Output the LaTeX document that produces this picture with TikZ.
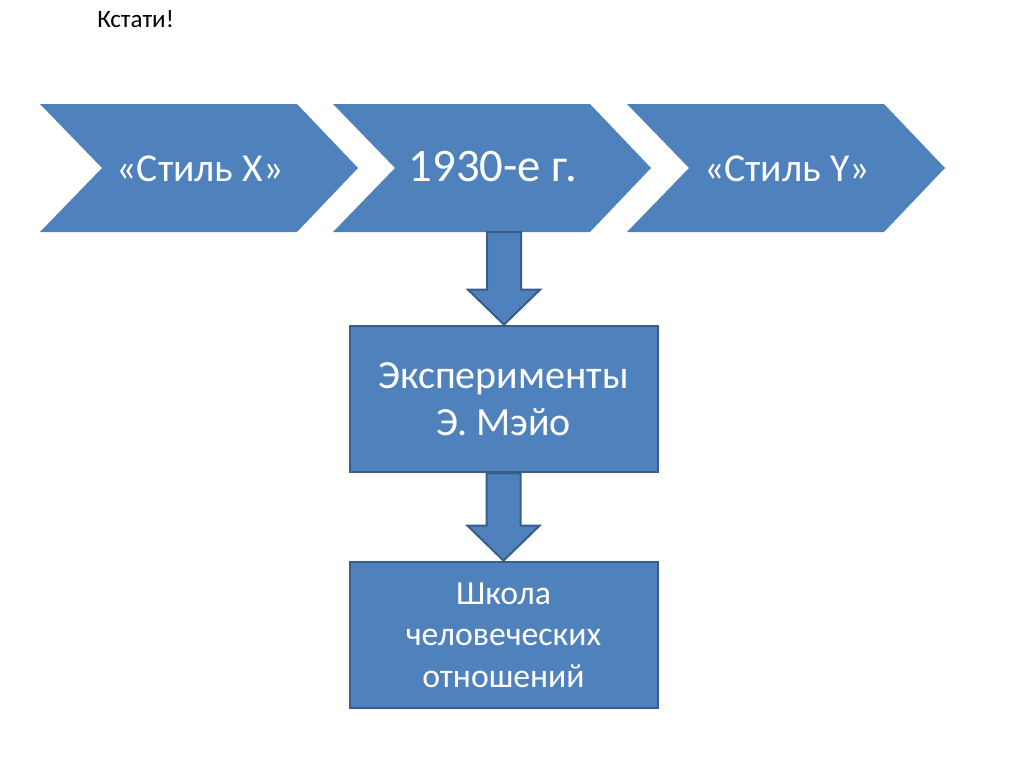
\documentclass[tikz,border=0pt]{standalone}
\usepackage{fontspec}
\setmainfont{Carlito}
\usetikzlibrary{calc}
\definecolor{officeblue}{HTML}{4F81BD}
\definecolor{officeedge}{HTML}{385D8A}
\tikzset{
  chevron/.style={fill=officeblue},
  label text/.style={text=white, inner sep=0pt},
  stagebox/.style={draw=officeedge, line width=1.5pt, fill=officeblue, text=white,
    minimum width=231pt, minimum height=110pt, align=center, inner sep=0pt},
  blockarrow/.style={draw=officeedge, line width=1.5pt, fill=officeblue, line join=miter}
}
% block arrow pointing down from #1 to #2
\newcommand{\blockdown}[2]{
  \draw[blockarrow] let \p1=(#1), \p2=(#2) in
    (\x1-12.75pt,\y1) -- (\x1-12.75pt,\y2+26.25pt) -- (\x1-27pt,\y2+26.25pt) -- (\x1,\y2)
    -- (\x1+27pt,\y2+26.25pt) -- (\x1+12.75pt,\y2+26.25pt) -- (\x1+12.75pt,\y1) -- cycle;
}
\begin{document}
\begin{tikzpicture}[x=0.75pt, y=-0.75pt]
  \useasboundingbox (0,0) rectangle (1024,767);
  \node[anchor=base west, inner sep=0pt, font=\fontsize{18.8}{22}\selectfont] (note) at (97,28) {Кстати!};

  % chevrons
  \foreach \L/\name/\txt/\size in {40/stylex/«Стиль X»/29.7, 333/years/1930-е г./35, 627/styley/«Стиль Y»/29.7}{
    \fill[chevron] (\L,104) -- (\L+257,104) -- (\L+318,168) -- (\L+257,232) -- (\L,232) -- (\L+62,168) -- cycle;
    \node[label text, anchor=base, font=\fontsize{\size}{\size}\selectfont] (\name) at (\L+160,181) {\txt};
  }
  \coordinate (years-bottom) at (504,232);

  \node[stagebox, font=\fontsize{30}{35.5}\selectfont] (mayo) at (503.5,399) {Эксперименты\\Э. Мэйо};
  \node[stagebox, font=\fontsize{25.3}{31}\selectfont] (school) at (503.5,635) {Школа\\человеческих\\отношений};

  \blockdown{years-bottom}{mayo.north}
  \blockdown{mayo.south}{school.north}
\end{tikzpicture}
\end{document}
